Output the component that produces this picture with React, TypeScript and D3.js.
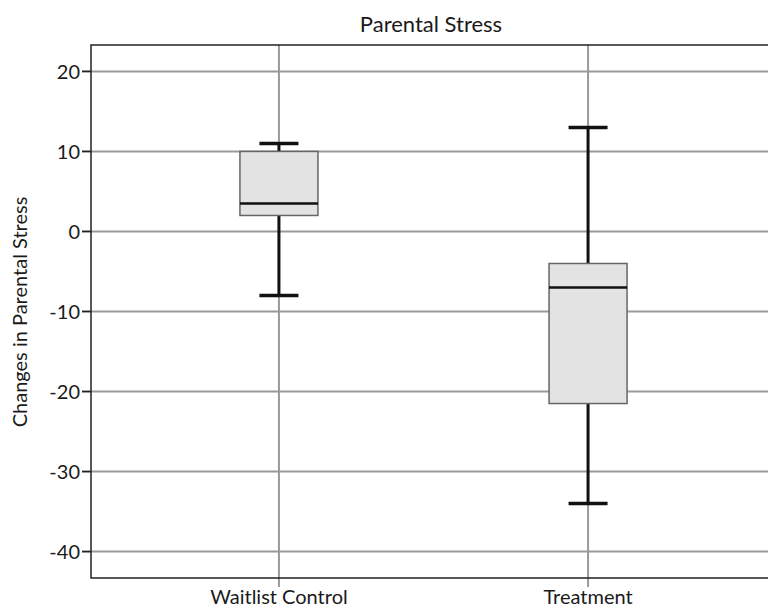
import React, { useEffect, useRef } from "react";
import * as d3 from "d3";

const groups = ["Waitlist Control", "Treatment"];
const whiskerLow = [-8, -34];
const q1 = [2, -21.5];
const medians = [3.5, -7];
const q3 = [10, -4];
const whiskerHigh = [11, 13];
const yTicks = [20, 10, 0, -10, -20, -30, -40];

const App = () => {
  const ref = useRef<SVGSVGElement>(null);

  useEffect(() => {
    const svg = d3.select(ref.current);
    svg.selectAll("*").remove();

    const left = 91;
    const top = 45;
    const bottom = 578;
    const font = "Lato, 'Open Sans', sans-serif";

    const y = d3.scaleLinear().domain([-43.3, 23.3]).range([bottom, top]);
    const x = d3.scalePoint().domain(groups).range([left, 776]).padding(0.608);

    const data = groups.map((g, i) => ({
      g,
      lo: whiskerLow[i],
      q1: q1[i],
      med: medians[i],
      q3: q3[i],
      hi: whiskerHigh[i],
    }));

    // horizontal grid
    svg
      .selectAll(".hgrid")
      .data(yTicks)
      .enter()
      .append("line")
      .attr("x1", left - 9)
      .attr("x2", 768)
      .attr("y1", (d) => y(d))
      .attr("y2", (d) => y(d))
      .attr("stroke", "#9a9a9a")
      .attr("stroke-width", 2);

    // vertical grid
    svg
      .selectAll(".vgrid")
      .data(groups)
      .enter()
      .append("line")
      .attr("x1", (d) => x(d)!)
      .attr("x2", (d) => x(d)!)
      .attr("y1", top)
      .attr("y2", bottom + 9)
      .attr("stroke", "#9a9a9a")
      .attr("stroke-width", 2);

    // frame
    svg
      .append("path")
      .attr("d", `M768,${top}H${left}V${bottom}H768`)
      .attr("fill", "none")
      .attr("stroke", "#222")
      .attr("stroke-width", 1.5);

    // y tick marks
    svg
      .selectAll(".ytick")
      .data(yTicks)
      .enter()
      .append("line")
      .attr("x1", left - 9)
      .attr("x2", left)
      .attr("y1", (d) => y(d))
      .attr("y2", (d) => y(d))
      .attr("stroke", "#222")
      .attr("stroke-width", 1.5);

    svg
      .selectAll(".ylab")
      .data(yTicks)
      .enter()
      .append("text")
      .attr("x", left - 11)
      .attr("y", (d) => y(d))
      .attr("dy", "0.36em")
      .attr("text-anchor", "end")
      .style("font-family", font)
      .style("font-size", "20px")
      .style("fill", "#1a1a1a")
      .text((d) => d);

    const bw = 78;
    const cw = 39;
    const box = svg.selectAll(".box").data(data).enter().append("g");

    box
      .append("line")
      .attr("x1", (d) => x(d.g)!)
      .attr("x2", (d) => x(d.g)!)
      .attr("y1", (d) => y(d.hi))
      .attr("y2", (d) => y(d.lo))
      .attr("stroke", "#111")
      .attr("stroke-width", 3);

    box
      .selectAll(".cap")
      .data((d) => [d.hi, d.lo].map((v) => ({ g: d.g, v })))
      .enter()
      .append("line")
      .attr("x1", (d) => x(d.g)! - cw / 2)
      .attr("x2", (d) => x(d.g)! + cw / 2)
      .attr("y1", (d) => y(d.v))
      .attr("y2", (d) => y(d.v))
      .attr("stroke", "#111")
      .attr("stroke-width", 3.5);

    box
      .append("rect")
      .attr("x", (d) => x(d.g)! - bw / 2)
      .attr("width", bw)
      .attr("y", (d) => y(d.q3))
      .attr("height", (d) => y(d.q1) - y(d.q3))
      .attr("fill", "#e3e3e3")
      .attr("stroke", "#666")
      .attr("stroke-width", 1.5);

    box
      .append("line")
      .attr("x1", (d) => x(d.g)! - bw / 2)
      .attr("x2", (d) => x(d.g)! + bw / 2)
      .attr("y1", (d) => y(d.med))
      .attr("y2", (d) => y(d.med))
      .attr("stroke", "#111")
      .attr("stroke-width", 2.5);

    svg
      .selectAll(".xlab")
      .data(groups)
      .enter()
      .append("text")
      .attr("x", (d) => x(d)!)
      .attr("y", 604)
      .attr("text-anchor", "middle")
      .style("font-family", font)
      .style("font-size", "20px")
      .style("fill", "#1a1a1a")
      .text((d) => d);

    svg
      .append("text")
      .attr("x", 431)
      .attr("y", 32)
      .attr("text-anchor", "middle")
      .style("font-family", font)
      .style("font-size", "22px")
      .style("fill", "#1a1a1a")
      .text("Parental Stress");

    svg
      .append("text")
      .attr("transform", `translate(27,312) rotate(-90)`)
      .attr("text-anchor", "middle")
      .style("font-family", font)
      .style("font-size", "20px")
      .style("fill", "#1a1a1a")
      .text("Changes in Parental Stress");
  }, []);

  return (
    <svg
      ref={ref}
      width={768}
      height={609}
      style={{ position: "absolute", left: 0, top: 0, background: "#fff" }}
    />
  );
};

export default App;
